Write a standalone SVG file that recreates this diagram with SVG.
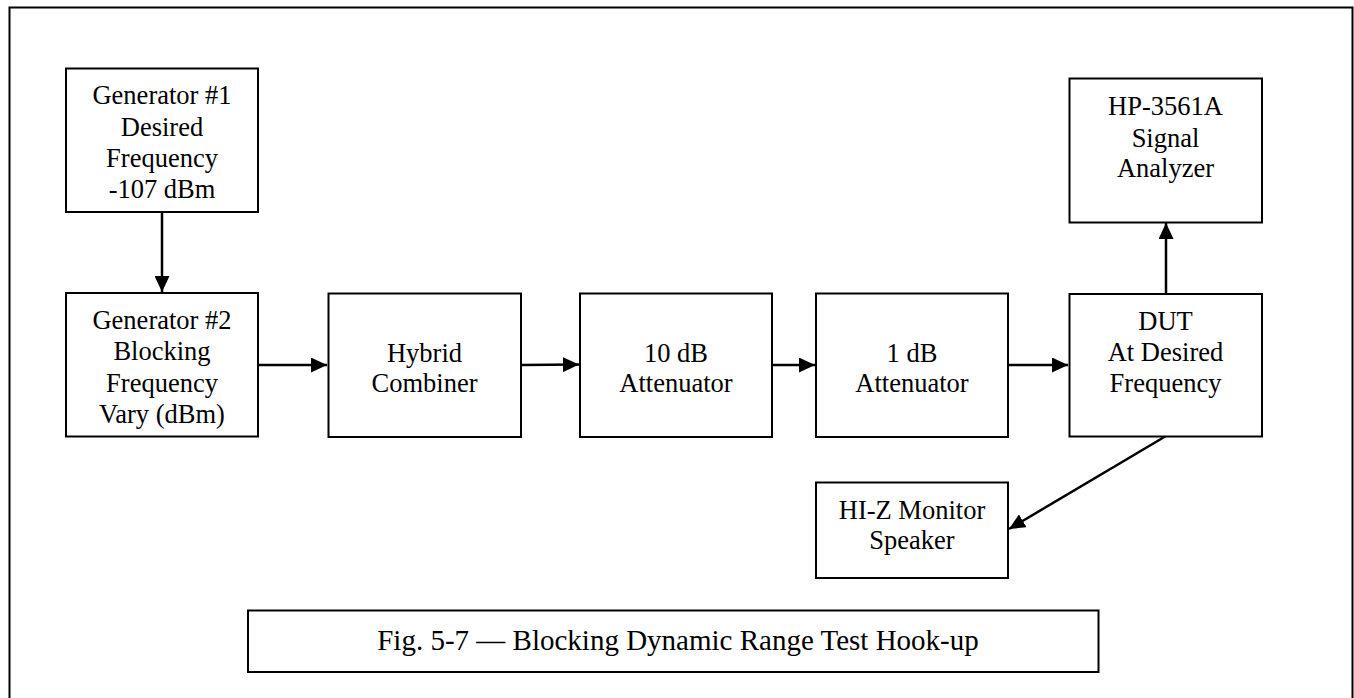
<svg xmlns="http://www.w3.org/2000/svg" width="1354" height="698" viewBox="0 0 1354 698">
<defs>
<style>
.frame{fill:none;stroke:#000;stroke-width:2}
.box{fill:#fff;stroke:#000;stroke-width:2}
.t{font-family:"Liberation Serif","Times New Roman",serif;font-size:26.5px;fill:#000;text-anchor:middle}
.cap{font-family:"Liberation Serif","Times New Roman",serif;font-size:29px;fill:#000;text-anchor:middle}
.c{fill:none;stroke:#000;stroke-width:2.5}
</style>
<marker id="ah" markerWidth="16" markerHeight="15" refX="16" refY="7.5" orient="auto" markerUnits="userSpaceOnUse">
<path d="M0,0 L16,7.5 L0,15 Z" fill="#000"/>
</marker>
</defs>
<rect width="1354" height="698" fill="#fff"/>
<rect class="frame" x="9.5" y="7.5" width="1343" height="700"/>

<g id="connectors">
<line class="c" x1="162" y1="212" x2="162" y2="292" marker-end="url(#ah)"/>
<line class="c" x1="258" y1="365" x2="327" y2="365" marker-end="url(#ah)"/>
<line class="c" x1="521" y1="365" x2="579" y2="364.5" marker-end="url(#ah)"/>
<line class="c" x1="772" y1="365" x2="815" y2="365" marker-end="url(#ah)"/>
<line class="c" x1="1008" y1="365" x2="1068" y2="365" marker-end="url(#ah)"/>
<line class="c" x1="1166" y1="294" x2="1166" y2="223" marker-end="url(#ah)"/>
<line class="c" x1="1166" y1="436" x2="1009" y2="529" marker-end="url(#ah)"/>
</g>

<g id="gen1">
<rect class="box" x="66" y="68.5" width="192" height="143.5"/>
<text class="t" x="162" y="104">Generator #1</text>
<text class="t" x="162" y="136">Desired</text>
<text class="t" x="162" y="167">Frequency</text>
<text class="t" x="162" y="198">-107 dBm</text>
</g>

<g id="gen2">
<rect class="box" x="66" y="293" width="192" height="143.5"/>
<text class="t" x="162" y="329">Generator #2</text>
<text class="t" x="162" y="360">Blocking</text>
<text class="t" x="162" y="392">Frequency</text>
<text class="t" x="162" y="423">Vary (dBm)</text>
</g>

<g id="hybrid">
<rect class="box" x="328.5" y="293.5" width="192.5" height="143.5"/>
<text class="t" x="424.5" y="362">Hybrid</text>
<text class="t" x="424.5" y="392">Combiner</text>
</g>

<g id="att10">
<rect class="box" x="580" y="293.5" width="192" height="143.5"/>
<text class="t" x="676" y="362">10 dB</text>
<text class="t" x="676" y="392">Attenuator</text>
</g>

<g id="att1">
<rect class="box" x="816" y="293.5" width="192" height="143.5"/>
<text class="t" x="912" y="362">1 dB</text>
<text class="t" x="912" y="392">Attenuator</text>
</g>

<g id="dut">
<rect class="box" x="1069.5" y="294" width="192.5" height="142.5"/>
<text class="t" x="1165.5" y="330">DUT</text>
<text class="t" x="1165.5" y="361">At Desired</text>
<text class="t" x="1165.5" y="392">Frequency</text>
</g>

<g id="analyzer">
<rect class="box" x="1069.5" y="78.5" width="192.5" height="144"/>
<text class="t" x="1165.5" y="115">HP-3561A</text>
<text class="t" x="1165.5" y="147">Signal</text>
<text class="t" x="1165.5" y="177">Analyzer</text>
</g>

<g id="speaker">
<rect class="box" x="816" y="482.5" width="192" height="95.5"/>
<text class="t" x="912" y="519">HI-Z Monitor</text>
<text class="t" x="912" y="549">Speaker</text>
</g>

<g id="caption">
<rect class="box" x="248" y="610.5" width="850.5" height="61.5"/>
<text class="cap" x="678" y="650">Fig. 5-7 — Blocking Dynamic Range Test Hook-up</text>
</g>
</svg>
